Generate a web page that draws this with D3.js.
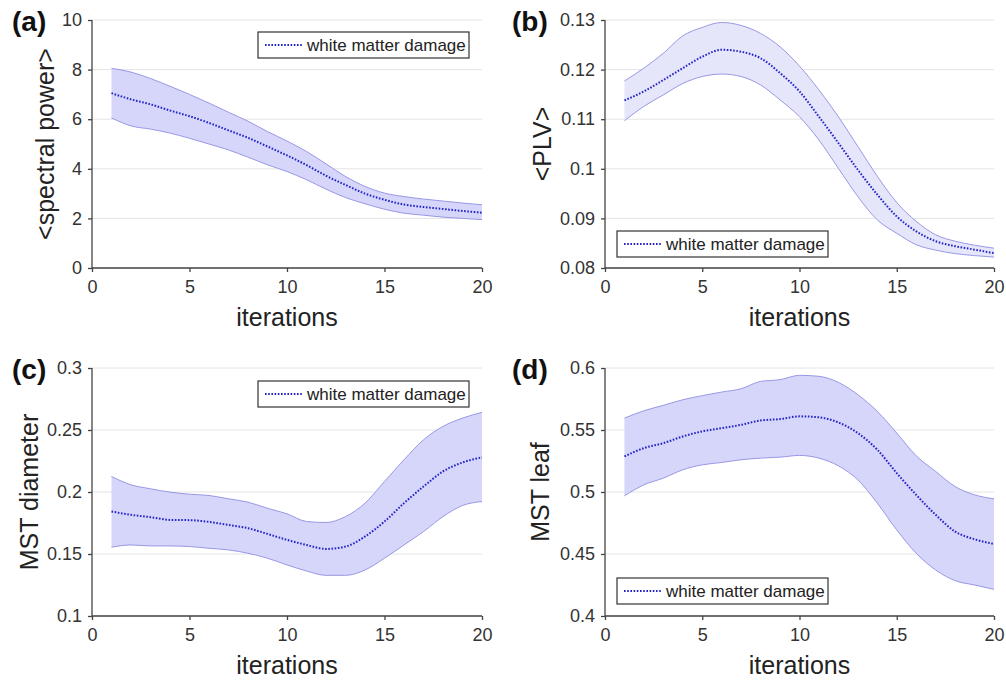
<!DOCTYPE html>
<html>
<head>
<meta charset="utf-8">
<script src="https://cdn.jsdelivr.net/npm/d3@7"></script>
<style>
  body { margin: 0; background: #fff; }
  svg { font-family: "Liberation Sans", Arial, sans-serif; }
</style>
</head>
<body>
<svg width="1006" height="681"></svg>
<script>
var iterations = d3.range(1, 21);

// (a) <spectral power>
var powerMean  = [7.05, 6.8, 6.6, 6.35, 6.12, 5.85, 5.55, 5.25, 4.9, 4.54, 4.15, 3.72, 3.35, 3.0, 2.75, 2.56, 2.46, 2.38, 2.3, 2.23];
var powerUpper = [8.05, 7.9, 7.64, 7.33, 7.0, 6.65, 6.28, 5.92, 5.5, 5.12, 4.7, 4.2, 3.69, 3.29, 3.02, 2.88, 2.78, 2.7, 2.62, 2.55];
var powerLower = [6.05, 5.73, 5.6, 5.44, 5.23, 5.0, 4.76, 4.47, 4.16, 3.89, 3.56, 3.18, 2.84, 2.59, 2.37, 2.21, 2.13, 2.05, 2.0, 1.95];

// (b) <PLV>
var plvMean  = [0.1138, 0.1156, 0.1179, 0.1203, 0.1226, 0.124, 0.1236, 0.1223, 0.1193, 0.1156, 0.1105, 0.1052, 0.0998, 0.0948, 0.0904, 0.0874, 0.0854, 0.0844, 0.0837, 0.083];
var plvUpper = [0.1177, 0.1203, 0.1233, 0.1268, 0.1285, 0.1295, 0.1289, 0.1273, 0.1246, 0.1207, 0.1159, 0.1105, 0.1045, 0.0985, 0.0932, 0.0894, 0.0867, 0.0854, 0.0846, 0.084];
var plvLower = [0.1097, 0.1126, 0.1149, 0.1172, 0.1186, 0.1191, 0.1186, 0.1169, 0.1139, 0.1105, 0.1058, 0.1001, 0.0944, 0.0897, 0.087, 0.0847, 0.0836, 0.0829, 0.0825, 0.0822];

// (c) MST diameter
var diamMean  = [0.1843, 0.1816, 0.1797, 0.1775, 0.1773, 0.1759, 0.1735, 0.1708, 0.1662, 0.1614, 0.1573, 0.1541, 0.156, 0.1641, 0.1762, 0.191, 0.2044, 0.2166, 0.2238, 0.2279];
var diamUpper = [0.2125, 0.2058, 0.2026, 0.1999, 0.1982, 0.1972, 0.1945, 0.1918, 0.1869, 0.1824, 0.1762, 0.1754, 0.1802, 0.191, 0.2085, 0.226, 0.2421, 0.2529, 0.2596, 0.2642];
var diamLower = [0.1555, 0.1573, 0.1565, 0.1565, 0.156, 0.1546, 0.1533, 0.1506, 0.1466, 0.1412, 0.1363, 0.1328, 0.1328, 0.1371, 0.1466, 0.1573, 0.1681, 0.1802, 0.1891, 0.1923];

// (d) MST leaf
var leafMean  = [0.5287, 0.5354, 0.5394, 0.5448, 0.5489, 0.5515, 0.5542, 0.5577, 0.5588, 0.561, 0.5602, 0.5561, 0.5475, 0.5341, 0.5152, 0.4977, 0.4816, 0.4681, 0.4619, 0.4581];
var leafUpper = [0.5596, 0.5655, 0.5699, 0.5744, 0.5777, 0.5806, 0.5833, 0.5892, 0.5906, 0.5941, 0.5933, 0.5884, 0.5785, 0.565, 0.5475, 0.5292, 0.5166, 0.5044, 0.4977, 0.4945];
var leafLower = [0.4969, 0.5058, 0.5112, 0.5179, 0.5219, 0.5238, 0.526, 0.5273, 0.5281, 0.5295, 0.5273, 0.5211, 0.5098, 0.491, 0.4694, 0.4506, 0.4371, 0.4285, 0.425, 0.4215];

var xTicks = [0, 5, 10, 15, 20];
var powerTicks = [0, 2, 4, 6, 8, 10];
var plvTicks = [0.08, 0.09, 0.1, 0.11, 0.12, 0.13];
var diamTicks = [0.1, 0.15, 0.2, 0.25, 0.3];
var leafTicks = [0.4, 0.45, 0.5, 0.55, 0.6];

var legendText = "white matter damage";

var panels = [
  {tag: "(a)", ylabel: "<spectral power>", mean: powerMean, upper: powerUpper, lower: powerLower,
   ydom: [0, 10], yticks: powerTicks, left: 92, right: 482, top: 20, bottom: 268,
   labX: 45, tagX: 12, legX: 258, legY: 32, fill: "#d6d6fa"},
  {tag: "(b)", ylabel: "<PLV>", mean: plvMean, upper: plvUpper, lower: plvLower,
   ydom: [0.08, 0.13], yticks: plvTicks, left: 605, right: 994, top: 20, bottom: 268,
   labX: 542, tagX: 512, legX: 617, legY: 231, fill: "#e6e6fb"},
  {tag: "(c)", ylabel: "MST diameter", mean: diamMean, upper: diamUpper, lower: diamLower,
   ydom: [0.1, 0.3], yticks: diamTicks, left: 92, right: 482, top: 368, bottom: 616,
   labX: 29, tagX: 12, legX: 258, legY: 381, fill: "#d6d6fa"},
  {tag: "(d)", ylabel: "MST leaf", mean: leafMean, upper: leafUpper, lower: leafLower,
   ydom: [0.4, 0.6], yticks: leafTicks, left: 605, right: 994, top: 368, bottom: 616,
   labX: 540, tagX: 512, legX: 617, legY: 578, fill: "#d6d6fa"}
];

var svg = d3.select("svg");

panels.forEach(function (p) {
  var x = d3.scaleLinear().domain([0, 20]).range([p.left, p.right]);
  var y = d3.scaleLinear().domain(p.ydom).range([p.bottom, p.top]);
  var g = svg.append("g");

  // grid
  g.selectAll("line.grid")
    .data(p.yticks)
    .enter().append("line")
    .attr("x1", p.left).attr("x2", p.right)
    .attr("y1", d => y(d)).attr("y2", d => y(d))
    .attr("stroke", "#e4e4e4").attr("stroke-width", 1);

  var rows = iterations.map(function (it, i) {
    return {x: it, m: p.mean[i], hi: p.upper[i], lo: p.lower[i]};
  });

  var band = d3.area()
    .x(d => x(d.x)).y0(d => y(d.lo)).y1(d => y(d.hi))
    .curve(d3.curveMonotoneX);
  g.append("path").datum(rows)
    .attr("d", band)
    .attr("fill", p.fill);

  ["hi", "lo"].forEach(function (k) {
    g.append("path").datum(rows)
      .attr("d", d3.line().x(d => x(d.x)).y(d => y(d[k])).curve(d3.curveMonotoneX))
      .attr("fill", "none").attr("stroke", "#9898e6").attr("stroke-width", 1);
  });

  g.append("path").datum(rows)
    .attr("d", d3.line().x(d => x(d.x)).y(d => y(d.m)).curve(d3.curveMonotoneX))
    .attr("fill", "none").attr("stroke", "#2424c8")
    .attr("stroke-width", 2).attr("stroke-dasharray", "1.6,1.6");

  // axes
  var fmt = d => String(+d.toFixed(3));
  var xAxis = g.append("g")
    .attr("transform", "translate(0," + p.bottom + ")")
    .call(d3.axisBottom(x).tickValues(xTicks).tickSize(4).tickPadding(8).tickFormat(fmt));
  var yAxis = g.append("g")
    .attr("transform", "translate(" + p.left + ",0)")
    .call(d3.axisLeft(y).tickValues(p.yticks).tickSize(4).tickPadding(6).tickFormat(fmt));
  [xAxis, yAxis].forEach(function (a) {
    a.select(".domain").attr("stroke", "#444").attr("stroke-width", 1.3);
    a.selectAll(".tick line").attr("stroke", "#444").attr("stroke-width", 1.3);
    a.selectAll(".tick text").attr("fill", "#333")
      .style("font-size", "18px").style("font-family", "'Liberation Sans', Arial, sans-serif");
  });
  xAxis.select(".domain").attr("d", "M" + p.left + ",0H" + p.right);
  yAxis.select(".domain").attr("d", "M0," + p.bottom + "V" + p.top);

  // axis labels
  g.append("text")
    .attr("x", (p.left + p.right) / 2).attr("y", p.bottom + 58)
    .attr("text-anchor", "middle").attr("fill", "#222")
    .style("font-size", "25px").text("iterations");
  g.append("text")
    .attr("transform", "translate(" + p.labX + "," + ((p.top + p.bottom) / 2) + ") rotate(-90)")
    .attr("dy", "0.35em")
    .attr("text-anchor", "middle").attr("fill", "#222")
    .style("font-size", "25px").text(p.ylabel);

  // panel tag
  g.append("text")
    .attr("x", p.tagX).attr("y", p.top + 11)
    .attr("fill", "#111").style("font-size", "28px").style("font-weight", "bold")
    .text(p.tag);

  // legend
  var leg = g.append("g").attr("transform", "translate(" + p.legX + "," + p.legY + ")");
  leg.append("rect").attr("width", 211).attr("height", 26)
    .attr("fill", "#fff").attr("stroke", "#333").attr("stroke-width", 1.2);
  leg.append("line").attr("x1", 7).attr("x2", 44).attr("y1", 13).attr("y2", 13)
    .attr("stroke", "#2424c8").attr("stroke-width", 2).attr("stroke-dasharray", "1.6,1.6");
  leg.append("text").attr("x", 49).attr("y", 19)
    .attr("fill", "#222").style("font-size", "17px").text(legendText);
});
</script>
</body>
</html>
